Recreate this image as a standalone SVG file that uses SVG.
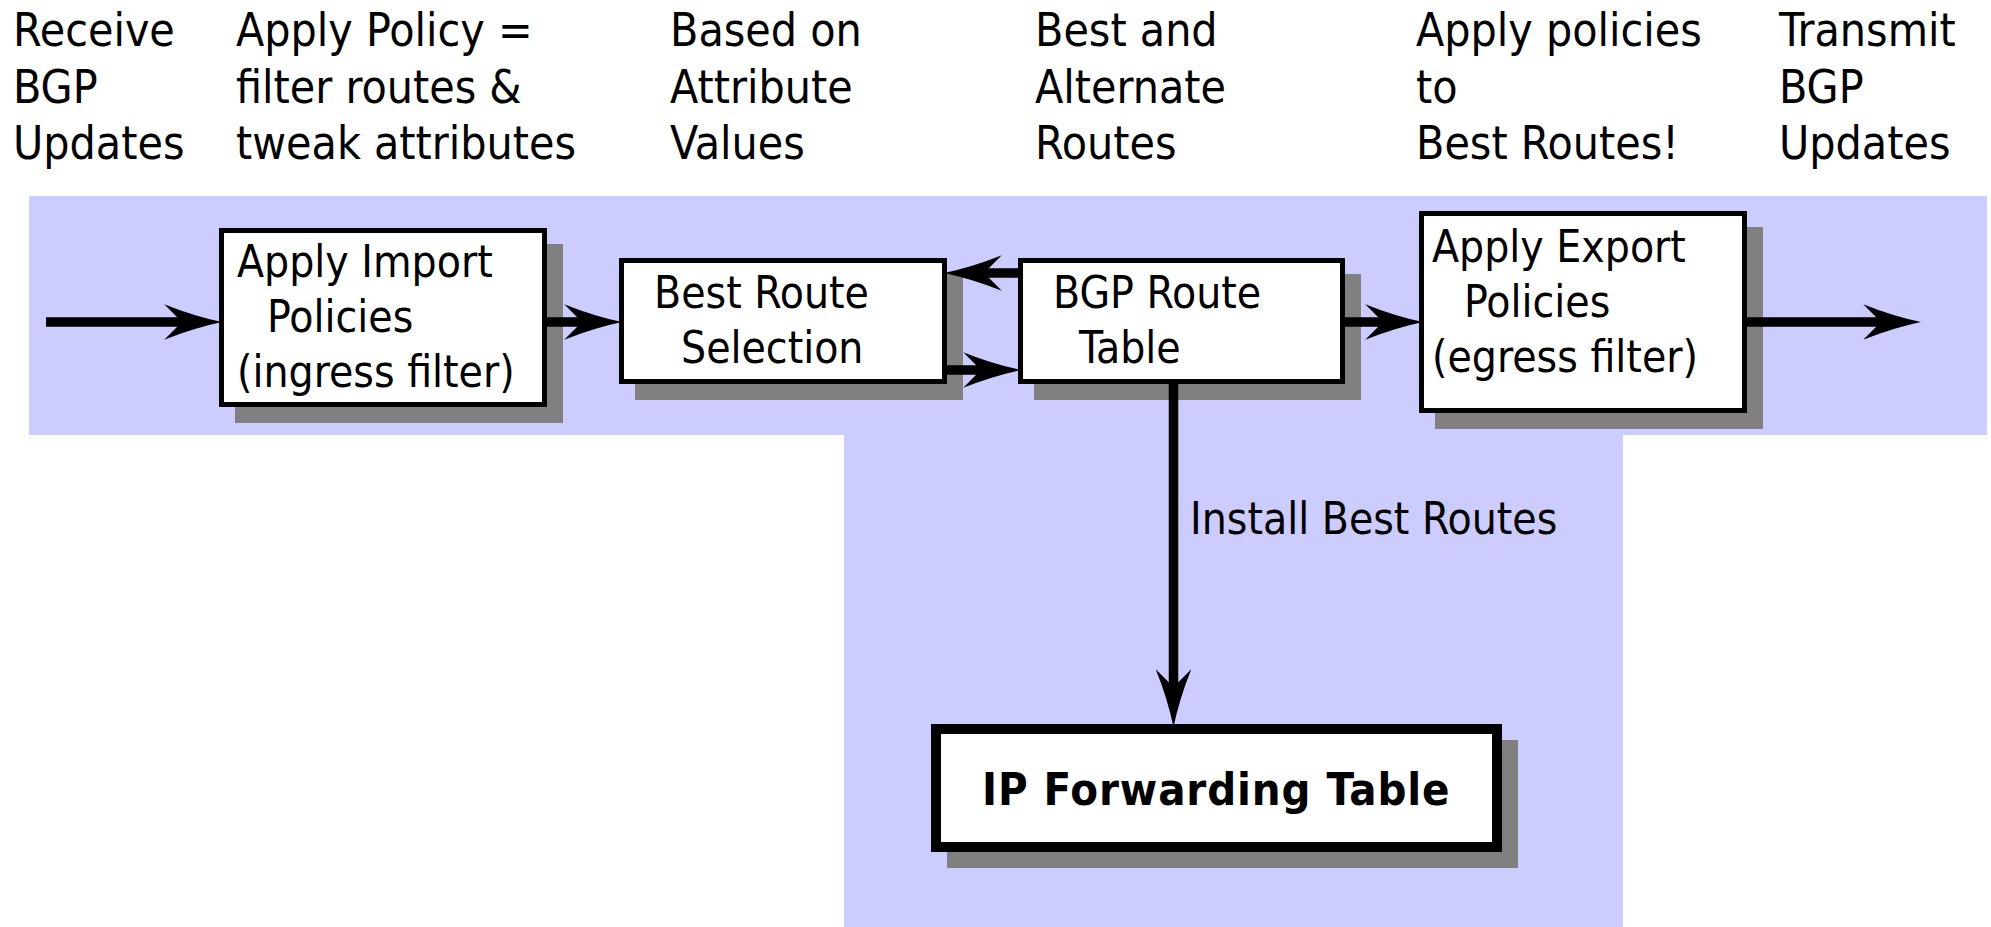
<svg xmlns="http://www.w3.org/2000/svg" width="1991" height="927" viewBox="0 0 1991 927">
  <style>
    .lbl { font-family: "DejaVu Sans Condensed", "DejaVu Sans", sans-serif; font-stretch: condensed; fill: #000; }
    .top { font-size: 46px; }
    .box-t { font-size: 44px; }
    .bold { font-size: 45px; font-weight: bold; letter-spacing: 0.9px; }
    .node { fill: #fff; stroke: #000; stroke-width: 5; }
    .shadow { fill: #808080; }
    .conn { stroke: #000; stroke-width: 9.5; fill: none; marker-end: url(#head); }
  </style>
  <defs>
    <!-- notched arrowhead: base of the notch sits on the line end, tip 36px ahead -->
    <marker id="head" markerUnits="userSpaceOnUse" markerWidth="60" markerHeight="40" viewBox="-17 -17 54 34" refX="0" refY="0" orient="auto" overflow="visible">
      <path d="M36,0 Q10,-5.5 -16,-16 L0,0 L-16,16 Q10,5.5 36,0 Z" fill="#000"/>
    </marker>
  </defs>

  <!-- lavender process region -->
  <path d="M29,196 H1987 V435 H1623 V927 H844 V435 H29 Z" fill="#CCCCFF"/>

  <!-- stage captions along the top -->
  <g id="captions" class="lbl top">
    <text x="13" y="46">Receive</text>
    <text x="13" y="102.5">BGP</text>
    <text x="13" y="159">Updates</text>
    <text x="236" y="46">Apply Policy =</text>
    <text x="236" y="102.5">filter routes &amp;</text>
    <text x="236" y="159">tweak attributes</text>
    <text x="670" y="46">Based on</text>
    <text x="670" y="102.5">Attribute</text>
    <text x="670" y="159">Values</text>
    <text x="1035" y="46">Best and</text>
    <text x="1035" y="102.5">Alternate</text>
    <text x="1035" y="159">Routes</text>
    <text x="1416" y="46">Apply policies</text>
    <text x="1416" y="102.5">to</text>
    <text x="1416" y="159">Best Routes!</text>
    <text x="1779" y="46">Transmit</text>
    <text x="1779" y="102.5">BGP</text>
    <text x="1779" y="159">Updates</text>
  </g>

  <g id="import-policies">
    <rect class="shadow" x="235" y="244" width="328" height="179"/>
    <rect class="node" x="221.5" y="230.5" width="323" height="174"/>
    <text class="lbl box-t" x="237" y="277">Apply Import</text>
    <text class="lbl box-t" x="267" y="332">Policies</text>
    <text class="lbl box-t" x="237" y="387">(ingress filter)</text>
  </g>

  <g id="best-route-selection">
    <rect class="shadow" x="635" y="274" width="328" height="126"/>
    <rect class="node" x="621.5" y="260.5" width="323" height="121"/>
    <text class="lbl box-t" x="654" y="308">Best Route</text>
    <text class="lbl box-t" x="681" y="363">Selection</text>
  </g>

  <g id="bgp-route-table">
    <rect class="shadow" x="1034" y="274" width="327" height="126"/>
    <rect class="node" x="1020.5" y="260.5" width="322" height="121"/>
    <text class="lbl box-t" x="1053" y="308">BGP Route</text>
    <text class="lbl box-t" x="1079" y="363">Table</text>
  </g>

  <g id="export-policies">
    <rect class="shadow" x="1435" y="227" width="328" height="202"/>
    <rect class="node" x="1421.5" y="213.5" width="323" height="197"/>
    <text class="lbl box-t" x="1432" y="262">Apply Export</text>
    <text class="lbl box-t" x="1464" y="317">Policies</text>
    <text class="lbl box-t" x="1432" y="372">(egress filter)</text>
  </g>

  <g id="ip-forwarding-table">
    <rect class="shadow" x="947" y="740" width="571" height="128"/>
    <rect class="node" x="936" y="729" width="561" height="118" style="stroke-width:10"/>
    <text class="lbl bold" x="982" y="805">IP Forwarding Table</text>
  </g>

  <g id="connectors">
    <line class="conn" x1="46" y1="322" x2="182" y2="322"/>
    <line class="conn" x1="547" y1="322" x2="582" y2="322"/>
    <line class="conn" x1="1018" y1="273" x2="984" y2="273"/>
    <line class="conn" x1="947" y1="370" x2="981" y2="370"/>
    <line class="conn" x1="1345" y1="322" x2="1383" y2="322"/>
    <line class="conn" x1="1747" y1="322" x2="1881" y2="322"/>
    <line class="conn" x1="1173.5" y1="384" x2="1173.5" y2="687"/>
    <text class="lbl box-t" x="1190" y="534">Install Best Routes</text>
  </g>
</svg>
